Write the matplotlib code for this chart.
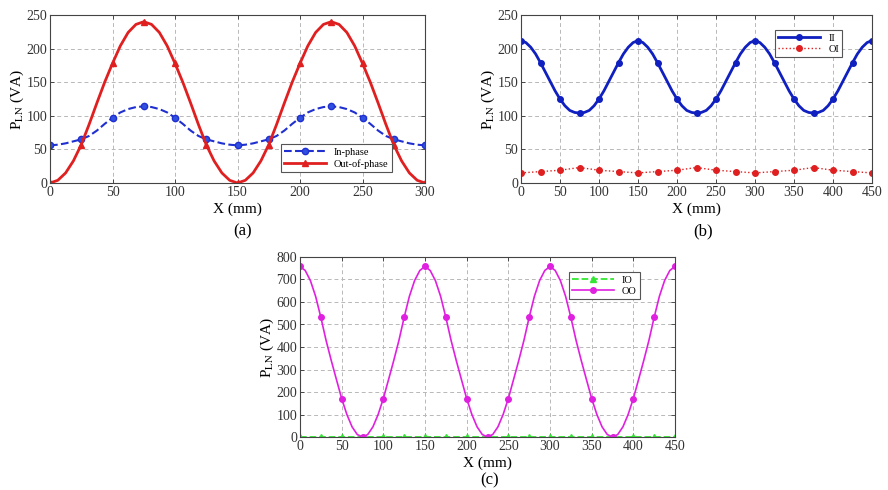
import matplotlib
matplotlib.use('Agg')
import matplotlib.pyplot as plt
import numpy as np

plt.rcParams['font.family'] = 'Liberation Serif'
plt.rcParams['mathtext.fontset'] = 'stix'

# (a) 0..300 mm, curve read every 6.25 mm (markers every 25 mm)
x_a = np.arange(0, 300.1, 6.25)
in_phase = [56, 57, 59, 62, 65, 70, 78, 88, 97, 105, 110, 113,
            114, 113, 110, 105, 97, 88, 78, 70, 65, 62, 59, 57,
            56, 57, 59, 62, 65, 70, 78, 88, 97, 105, 110, 113,
            114, 113, 110, 105, 97, 88, 78, 70, 65, 62, 59, 57, 56]
out_phase = [0, 4, 15, 33, 57, 87, 119, 150, 178, 204, 224, 236,
             240, 236, 224, 204, 178, 150, 119, 87, 57, 33, 15, 4,
             0, 4, 15, 33, 57, 87, 119, 150, 178, 204, 224, 236,
             240, 236, 224, 204, 178, 150, 119, 87, 57, 33, 15, 4, 0]

# (b) 0..450 mm
x_b = np.arange(0, 450.1, 6.25)
ii_vals = [212, 209, 202, 192, 179, 165, 151, 137, 125, 115, 108, 105,
           104, 105, 108, 115, 125, 137, 151, 165, 179, 192, 202, 209,
           212, 209, 202, 192, 179, 165, 151, 137, 125, 115, 108, 105,
           104, 105, 108, 115, 125, 137, 151, 165, 179, 192, 202, 209,
           212, 209, 202, 192, 179, 165, 151, 137, 125, 115, 108, 105,
           104, 105, 108, 115, 125, 137, 151, 165, 179, 192, 202, 209, 212]
x_oi = np.arange(0, 450.1, 25)
oi_vals = [15, 17, 19, 23, 19, 17, 15, 17, 19, 23,
           19, 17, 15, 17, 19, 23, 19, 17, 15]

# (c) 0..450 mm
x_c = np.arange(0, 450.1, 6.25)
oo_vals = [758, 740, 695, 625, 532, 430, 340, 255, 171, 100, 45, 11,
           0, 11, 45, 100, 171, 255, 340, 430, 532, 625, 695, 740,
           758, 740, 695, 625, 532, 430, 340, 255, 171, 100, 45, 11,
           0, 11, 45, 100, 171, 255, 340, 430, 532, 625, 695, 740,
           758, 740, 695, 625, 532, 430, 340, 255, 171, 100, 45, 11,
           0, 11, 45, 100, 171, 255, 340, 430, 532, 625, 695, 740, 758]
x_io = np.arange(0, 450.1, 25)
io_vals = [2, 2, 2, 2, 2, 2, 2, 2, 2, 2,
           2, 2, 2, 2, 2, 2, 2, 2, 2]

W, H = 888., 490.


def make_axes(fig, left, right, top, bottom):
    ax = fig.add_axes([left/W, 1 - bottom/H, (right-left)/W, (bottom-top)/H])
    ax.grid(True, linestyle=(0, (4, 3)), color='#b8b8b8', linewidth=0.7)
    ax.set_axisbelow(True)
    ax.tick_params(direction='in', top=True, right=True, labelsize=10, pad=2,
                   length=3, width=0.6, colors='#333333')
    for s in ax.spines.values():
        s.set_linewidth(0.8)
        s.set_color('#444444')
    ax.set_xlabel('X (mm)', fontsize=11, labelpad=3)
    ax.set_ylabel(r'P$_{\mathrm{LN}}$ (VA)', fontsize=11, labelpad=0)
    return ax


def legend(ax, loc, anchor):
    leg = ax.legend(loc=loc, bbox_to_anchor=anchor, fontsize=7.5, numpoints=1,
                    fancybox=False, framealpha=1, edgecolor='#555555',
                    handlelength=4, borderpad=0.3, labelspacing=0.2,
                    handletextpad=0.8)
    leg.get_frame().set_linewidth(0.8)


fig = plt.figure(figsize=(W/100, H/100), dpi=100)

# panel (a)
ax = make_axes(fig, 50, 425, 15, 183)
ax.plot(x_a, in_phase, '--o', color='#1f2fd0', lw=1.5, ms=4.5, markevery=4,
        mfc='#3050e0', label='In-phase')
ax.plot(x_a, out_phase, '-^', color='#e02020', lw=2.0, ms=4, markevery=4,
        label='Out-of-phase')
ax.set_xlim(0, 300)
ax.set_ylim(0, 250)
ax.set_xticks(np.arange(0, 301, 50))
ax.set_yticks(np.arange(0, 251, 50))
legend(ax, 'lower right', (0.925, 0.036))

# panel (b)
ax = make_axes(fig, 521, 872, 15, 183)
ax.plot(x_b, ii_vals, '-o', color='#1020c0', lw=2.0, ms=4, markevery=4,
        label='II')
ax.plot(x_oi, oi_vals, ':o', color='#e02020', lw=1.0, ms=4,
        label='OI')
ax.set_xlim(0, 450)
ax.set_ylim(0, 250)
ax.set_xticks(np.arange(0, 451, 50))
ax.set_yticks(np.arange(0, 251, 50))
legend(ax, 'upper right', (0.93, 0.94))

# panel (c)
ax = make_axes(fig, 300, 675, 257, 437)
ax.plot(x_io, io_vals, '--^', color='#33e633', lw=1.3, ms=5,
        label='IO')
ax.plot(x_c, oo_vals, '-o', color='#e020e0', lw=1.2, ms=4, markevery=4,
        label='OO')
ax.set_xlim(0, 450)
ax.set_ylim(0, 800)
ax.set_xticks(np.arange(0, 451, 50))
ax.set_yticks(np.arange(0, 801, 100))
legend(ax, 'upper right', (0.92, 0.944))

fig.text(243/W, 1 - 231/H, '(a)', ha='center', va='center', fontsize=12)
fig.text(703/W, 1 - 231/H, '(b)', ha='center', va='center', fontsize=12)
fig.text(490/W, 1 - 480/H, '(c)', ha='center', va='center', fontsize=12)

fig.savefig('out.png', dpi=100)
